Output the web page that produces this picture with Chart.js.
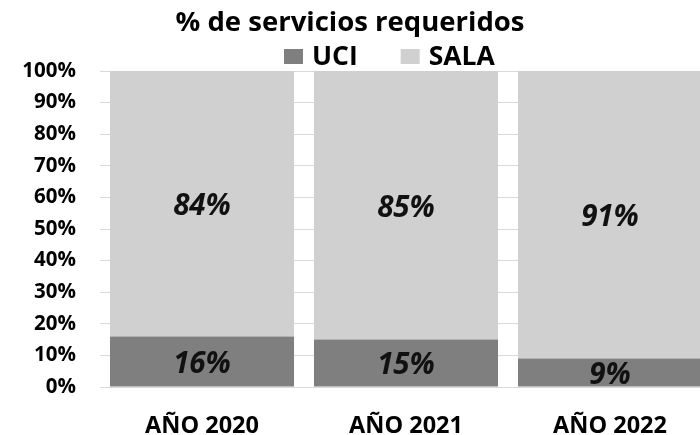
<!DOCTYPE html>
<html><head><meta charset="utf-8">
<script src="https://cdn.jsdelivr.net/npm/chart.js@4.4.0/dist/chart.umd.min.js"></script>
<style>html,body{margin:0;padding:0;background:#fff;overflow:hidden}#wrap{width:700px;height:435px;position:relative;overflow:hidden}canvas{position:absolute;left:0;top:0}</style>
</head><body><div id="wrap"><canvas id="c" width="712" height="435"></canvas></div>
<script>
const chartTitle = '% de servicios requeridos';
const categories = ['AÑO 2020', 'AÑO 2021', 'AÑO 2022'];
const seriesNames = ['UCI', 'SALA'];
const uciValues = [16, 15, 9];
const salaValues = [84, 85, 91];
const yTickValues = [0, 10, 20, 30, 40, 50, 60, 70, 80, 90, 100];

const FONT = '"Open Sans", Lato, sans-serif';
const UCI_COLOR = '#7f7f7f';
const SALA_COLOR = '#d0d0d0';

const titleLegendPlugin = {
  id: 'titleLegend',
  afterDraw(chart) {
    const ctx = chart.ctx;
    ctx.save();
    ctx.fillStyle = '#000';
    ctx.font = 'bold 27.5px ' + FONT;
    ctx.textAlign = 'center';
    ctx.textBaseline = 'alphabetic';
    ctx.fillText(chartTitle, 350, 31);
    ctx.font = 'bold 26.5px ' + FONT;
    ctx.textAlign = 'left';
    let x = 284;
    chart.data.datasets.forEach((ds) => {
      ctx.fillStyle = ds.backgroundColor;
      ctx.fillRect(x, 49, 19, 15);
      ctx.fillStyle = '#000';
      ctx.fillText(ds.label, x + 28, 65);
      x += 28 + ctx.measureText(ds.label).width + 43;
    });
    ctx.restore();
  }
};

const dataLabelPlugin = {
  id: 'dataLabels',
  afterDatasetsDraw(chart) {
    const ctx = chart.ctx;
    ctx.save();
    ctx.font = 'italic bold 29.5px ' + FONT;
    ctx.fillStyle = '#111';
    ctx.textAlign = 'center';
    ctx.textBaseline = 'middle';
    chart.data.datasets.forEach((ds, i) => {
      const meta = chart.getDatasetMeta(i);
      meta.data.forEach((el, j) => {
        const y = (el.y + el.base) / 2;
        ctx.fillText(ds.data[j] + '%', el.x, y + 3);
      });
    });
    ctx.restore();
  }
};

new Chart(document.getElementById('c'), {
  type: 'bar',
  data: {
    labels: categories,
    datasets: [
      { label: seriesNames[0], data: uciValues, backgroundColor: UCI_COLOR, borderWidth: 0 },
      { label: seriesNames[1], data: salaValues, backgroundColor: SALA_COLOR, borderWidth: 0 }
    ]
  },
  options: {
    responsive: false,
    animation: false,
    layout: { padding: { top: 71, right: 0, left: 0, bottom: 0 } },
    plugins: { legend: { display: false }, title: { display: false }, tooltip: { enabled: false } },
    datasets: { bar: { categoryPercentage: 1.0, barPercentage: 0.902 } },
    scales: {
      x: {
        stacked: true,
        afterFit(scale) { scale.height = 48; },
        grid: { display: false },
        border: { display: false },
        ticks: { color: '#000', font: { family: FONT, size: 23.5, weight: 'bold' }, padding: 17 }
      },
      y: {
        stacked: true,
        min: 0, max: 100,
        afterFit(scale) { scale.width = 100; },
        afterBuildTicks(scale) { scale.ticks = yTickValues.map(v => ({ value: v })); },
        grid: { color: '#d9d9d9', lineWidth: 1, drawTicks: false },
        border: { display: false },
        ticks: { color: '#000', font: { family: FONT, size: 20.5, weight: 'bold' }, padding: 24, callback: v => v + '%' }
      }
    }
  },
  plugins: [titleLegendPlugin, dataLabelPlugin]
});
</script></body></html>
